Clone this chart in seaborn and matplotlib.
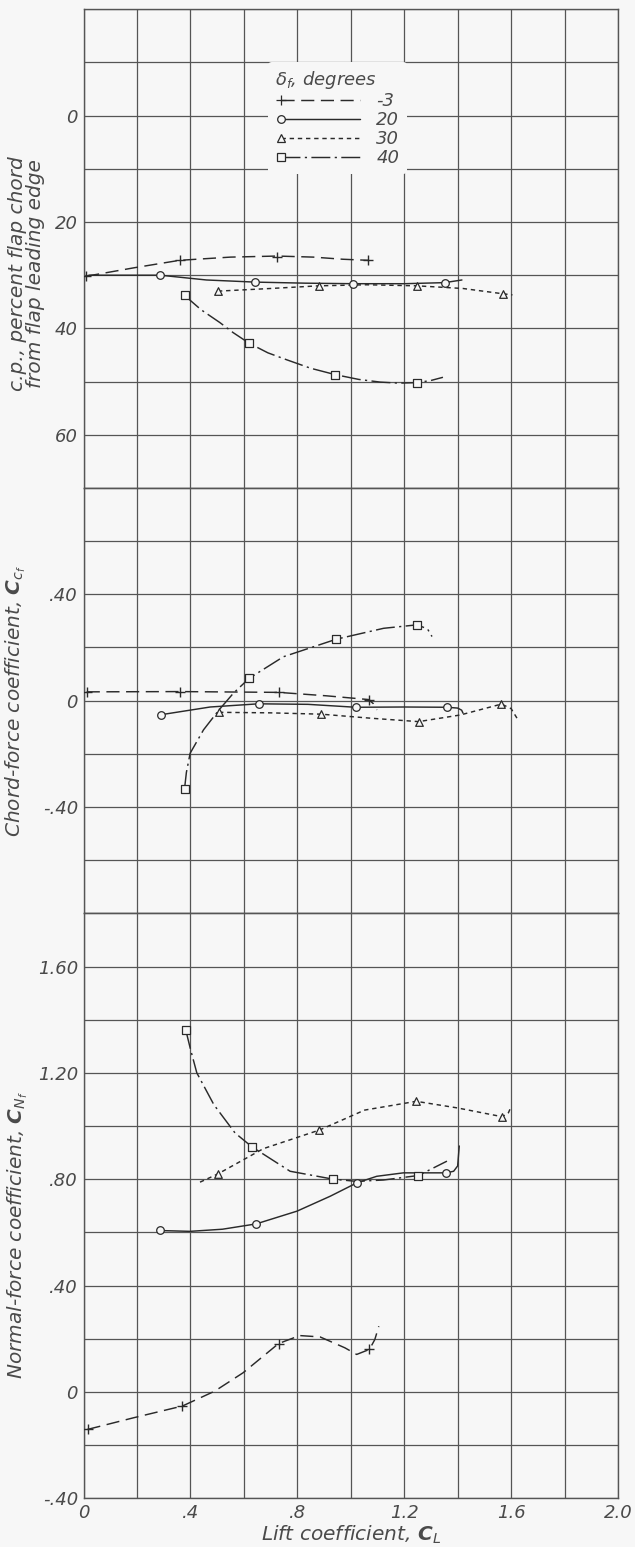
import pandas as pd
import matplotlib
matplotlib.use("Agg")
import matplotlib.pyplot as plt
import seaborn as sns
from matplotlib.lines import Line2D
from matplotlib.ticker import MultipleLocator
from matplotlib.legend_handler import HandlerLine2D

# flap deflections, degrees
flaps = ['-3', '20', '30', '40']

# ---- centre of pressure, percent flap chord (test points / faired curve) ----
cp_m3_pts = [(0.01, 30.2), (0.36, 27.2), (0.725, 26.5), (1.065, 27.2)]
cp_m3_line = [(0.01, 30.2), (0.19, 28.6), (0.36, 27.2), (0.55, 26.6), (0.725, 26.4),
              (0.86, 26.6), (0.97, 27.0), (1.065, 27.2)]
cp_20_pts = [(0.287, 30.0), (0.642, 31.3), (1.01, 31.6), (1.351, 31.4)]
cp_20_line = [(0.02, 30.0), (0.287, 30.0), (0.46, 30.9), (0.642, 31.3), (0.83, 31.5),
              (1.01, 31.6), (1.2, 31.6), (1.351, 31.4), (1.416, 30.9)]
cp_30_pts = [(0.503, 33.0), (0.88, 32.0), (1.248, 32.0), (1.57, 33.5)]
cp_30_line = [(0.503, 33.0), (0.7, 32.5), (0.88, 32.0), (1.06, 31.8), (1.248, 32.0),
              (1.42, 32.5), (1.57, 33.5), (1.605, 33.7)]
cp_40_pts = [(0.378, 33.8), (0.62, 42.8), (0.942, 48.7), (1.248, 50.2)]
cp_40_line = [(0.378, 33.8), (0.44, 36.5), (0.51, 38.9), (0.56, 40.8), (0.62, 42.8),
              (0.69, 44.6), (0.76, 45.9), (0.85, 47.5), (0.942, 48.7), (1.03, 49.6),
              (1.11, 50.1), (1.18, 50.3), (1.248, 50.2), (1.3, 49.8), (1.345, 49.2)]

# ---- chord-force coefficient ----
cf_m3_pts = [(0.012, 0.033), (0.362, 0.034), (0.73, 0.031), (1.067, 0.004)]
cf_m3_line = [(0.012, 0.033), (0.362, 0.034), (0.73, 0.031), (0.91, 0.018), (1.067, 0.004),
              (1.085, -0.012), (1.098, -0.035)]
cf_20_pts = [(0.29, -0.053), (0.655, -0.012), (1.019, -0.025), (1.36, -0.025)]
cf_20_line = [(0.29, -0.053), (0.474, -0.024), (0.655, -0.012), (0.84, -0.014), (1.019, -0.025),
              (1.2, -0.024), (1.36, -0.025), (1.40, -0.028), (1.415, -0.036), (1.42, -0.047)]
cf_30_pts = [(0.507, -0.044), (0.89, -0.051), (1.254, -0.079), (1.564, -0.013)]
cf_30_line = [(0.507, -0.044), (0.70, -0.046), (0.89, -0.051), (1.073, -0.066), (1.254, -0.079),
              (1.41, -0.054), (1.50, -0.03), (1.564, -0.013), (1.60, -0.03), (1.622, -0.066)]
cf_40_pts = [(0.378, -0.332), (0.62, 0.084), (0.946, 0.231), (1.248, 0.285)]
cf_40_line = [(0.378, -0.332), (0.385, -0.27), (0.399, -0.198), (0.449, -0.110), (0.507, -0.035),
              (0.561, 0.028), (0.62, 0.084), (0.748, 0.165), (0.946, 0.231), (1.123, 0.272),
              (1.248, 0.285), (1.287, 0.27), (1.304, 0.241)]

# ---- normal-force coefficient ----
cn_m3_pts = [(0.015, -0.141), (0.37, -0.053), (0.73, 0.182), (1.07, 0.16)]
cn_m3_line = [(0.015, -0.141), (0.188, -0.097), (0.37, -0.053), (0.491, 0.003), (0.597, 0.072),
              (0.73, 0.182), (0.809, 0.212), (0.885, 0.207), (0.978, 0.166), (1.022, 0.141),
              (1.07, 0.16), (1.09, 0.197), (1.105, 0.247)]
cn_20_pts = [(0.287, 0.608), (0.646, 0.632), (1.022, 0.786), (1.358, 0.824)]
cn_20_line = [(0.287, 0.607), (0.399, 0.604), (0.52, 0.612), (0.646, 0.632), (0.799, 0.68),
              (0.923, 0.736), (1.022, 0.786), (1.097, 0.811), (1.197, 0.824), (1.358, 0.824),
              (1.385, 0.83), (1.40, 0.85), (1.406, 0.925)]
cn_30_pts = [(0.503, 0.82), (0.883, 0.985), (1.245, 1.093), (1.567, 1.035)]
cn_30_line = [(0.436, 0.789), (0.503, 0.82), (0.673, 0.915), (0.883, 0.985), (1.052, 1.06),
              (1.245, 1.093), (1.40, 1.068), (1.567, 1.035), (1.59, 1.05), (1.601, 1.075)]
cn_40_pts = [(0.383, 1.36), (0.63, 0.922), (0.935, 0.80), (1.253, 0.814)]
cn_40_line = [(0.383, 1.36), (0.40, 1.29), (0.424, 1.20), (0.488, 1.08), (0.567, 0.974),
              (0.63, 0.922), (0.773, 0.83), (0.935, 0.80), (1.022, 0.792), (1.122, 0.797),
              (1.253, 0.814), (1.36, 0.868)]

x_ticks = [0, 0.4, 0.8, 1.2, 1.6, 2.0]
x_ticklabels = ['0', '.4', '.8', '1.2', '1.6', '2.0']
cp_ticks = [0, 20, 40, 60]
cp_ticklabels = ['0', '20', '40', '60']
cf_ticks = [-0.4, 0, 0.4]
cf_ticklabels = ['-.40', '0', '.40']
cn_ticks = [-0.4, 0, 0.4, 0.8, 1.2, 1.6]
cn_ticklabels = ['-.40', '0', '.40', '.80', '1.20', '1.60']

bg = '#f7f7f7'
ink = '#2a2a2a'
grid_c = '#555555'
text_c = '#4a4a4a'

dash_map = {'-3': (9, 4.5), '20': '', '30': (3, 2.6), '40': (13, 3, 1.5, 3)}
marker_map = {'-3': '+', '20': 'o', '30': '^', '40': 's'}

sns.set_style('white')
plt.rcParams['font.family'] = ['DejaVu Sans']
plt.rcParams['font.style'] = 'italic'
plt.rcParams['mathtext.fontset'] = 'dejavusans'
plt.rcParams['mathtext.default'] = 'it'


def long_df(d):
    rows = [(x, y, f) for f, pts in d.items() for x, y in pts]
    return pd.DataFrame(rows, columns=['CL', 'value', 'flap'])


def draw(ax, lines, pts):
    sns.lineplot(data=long_df(lines), x='CL', y='value', style='flap', style_order=flaps,
                 dashes=dash_map, color=ink, lw=1.05, sort=False, estimator=None,
                 legend=False, ax=ax)
    pdf = long_df(pts)
    for f in flaps:
        d = pdf[pdf.flap == f]
        if f == '-3':
            sns.scatterplot(data=d, x='CL', y='value', marker='+', s=50, color=ink,
                            linewidth=1.0, legend=False, ax=ax, zorder=5)
        else:
            sns.scatterplot(data=d, x='CL', y='value', marker=marker_map[f], s=30,
                            color=bg, edgecolor=ink, linewidth=0.9, legend=False,
                            ax=ax, zorder=5)


fig = plt.figure(figsize=(6.35, 15.47), dpi=100)
fig.patch.set_facecolor(bg)
gs = fig.add_gridspec(3, 1, height_ratios=[9, 8, 11], hspace=0,
                      left=83.5 / 635, right=618 / 635,
                      top=1 - 9.3 / 1547, bottom=1 - 1498.3 / 1547)
ax_cp = fig.add_subplot(gs[0])
ax_cf = fig.add_subplot(gs[1])
ax_cn = fig.add_subplot(gs[2])

draw(ax_cp, {'-3': cp_m3_line, '20': cp_20_line, '30': cp_30_line, '40': cp_40_line},
     {'-3': cp_m3_pts, '20': cp_20_pts, '30': cp_30_pts, '40': cp_40_pts})
draw(ax_cf, {'-3': cf_m3_line, '20': cf_20_line, '30': cf_30_line, '40': cf_40_line},
     {'-3': cf_m3_pts, '20': cf_20_pts, '30': cf_30_pts, '40': cf_40_pts})
draw(ax_cn, {'-3': cn_m3_line, '20': cn_20_line, '30': cn_30_line, '40': cn_40_line},
     {'-3': cn_m3_pts, '20': cn_20_pts, '30': cn_30_pts, '40': cn_40_pts})

ax_cp.set_ylim(70, -20)
ax_cf.set_ylim(-0.8, 0.8)
ax_cn.set_ylim(-0.4, 1.8)
ax_cp.set_yticks(cp_ticks, cp_ticklabels)
ax_cf.set_yticks(cf_ticks, cf_ticklabels)
ax_cn.set_yticks(cn_ticks, cn_ticklabels)
ax_cp.yaxis.set_minor_locator(MultipleLocator(10))
ax_cf.yaxis.set_minor_locator(MultipleLocator(0.2))
ax_cn.yaxis.set_minor_locator(MultipleLocator(0.2))

for ax in (ax_cp, ax_cf, ax_cn):
    ax.set_facecolor(bg)
    ax.set_xlim(0, 2.0)
    ax.set_xticks(x_ticks, x_ticklabels)
    ax.xaxis.set_minor_locator(MultipleLocator(0.2))
    ax.grid(which='both', color=grid_c, lw=0.9)
    ax.tick_params(which='both', length=0, pad=4, labelsize=13, labelcolor=text_c)
    ax.set_xlabel('')
    ax.set_ylabel('')
    for s in ax.spines.values():
        s.set_color(grid_c)
        s.set_linewidth(1.0)
    ax.set_axisbelow(True)

ax_cp.tick_params(labelbottom=False)
ax_cf.tick_params(labelbottom=False)

ax_cp.set_ylabel('c.p., percent flap chord\nfrom flap leading edge',
                 fontsize=14.5, color=text_c, linespacing=0.95)
ax_cp.yaxis.set_label_coords(-0.072, 0.447)
ax_cf.set_ylabel('Chord-force coefficient, $\\mathbf{C}_{c_f}$', fontsize=14.5, color=text_c)
ax_cf.yaxis.set_label_coords(-0.104, 0.5)
ax_cn.set_ylabel('Normal-force coefficient, $\\mathbf{C}_{N_f}$', fontsize=14.5, color=text_c)
ax_cn.yaxis.set_label_coords(-0.10, 0.45)
ax_cn.set_xlabel('Lift coefficient, $\\mathbf{C}_L$', fontsize=14.5, color=text_c)
ax_cn.xaxis.set_label_coords(0.5, -0.044)


class StartMarker(HandlerLine2D):
    # keep only the marker at the left end of the sample line
    def create_artists(self, *args, **kwargs):
        arts = super().create_artists(*args, **kwargs)
        for a in arts:
            a.set_markevery([0])
        return arts


handles = []
for f in flaps:
    ls = '-' if dash_map[f] == '' else (0, dash_map[f])
    handles.append(Line2D([0, 1], [0, 0], color=ink, lw=1.05, linestyle=ls,
                          marker=marker_map[f],
                          markersize=7 if f == '-3' else 5.5, markerfacecolor=bg,
                          markeredgecolor=ink, markeredgewidth=0.9))
leg = ax_cp.legend(handles, flaps, title='$\\delta_f$, degrees', loc='upper left',
                   bbox_to_anchor=(268 / 635, 1 - 62 / 1547), bbox_transform=fig.transFigure,
                   frameon=True, facecolor=bg, edgecolor='none', framealpha=1,
                   fontsize=13, title_fontsize=13, handlelength=5.0, handletextpad=0.6,
                   labelspacing=0.05, borderpad=0.4, borderaxespad=0, alignment='left',
                   numpoints=2, handler_map={Line2D: StartMarker(numpoints=2)})
for t in leg.get_texts():
    t.set_color(text_c)
leg.get_title().set_color(text_c)

fig.savefig('out.png', dpi=100, facecolor=bg)
